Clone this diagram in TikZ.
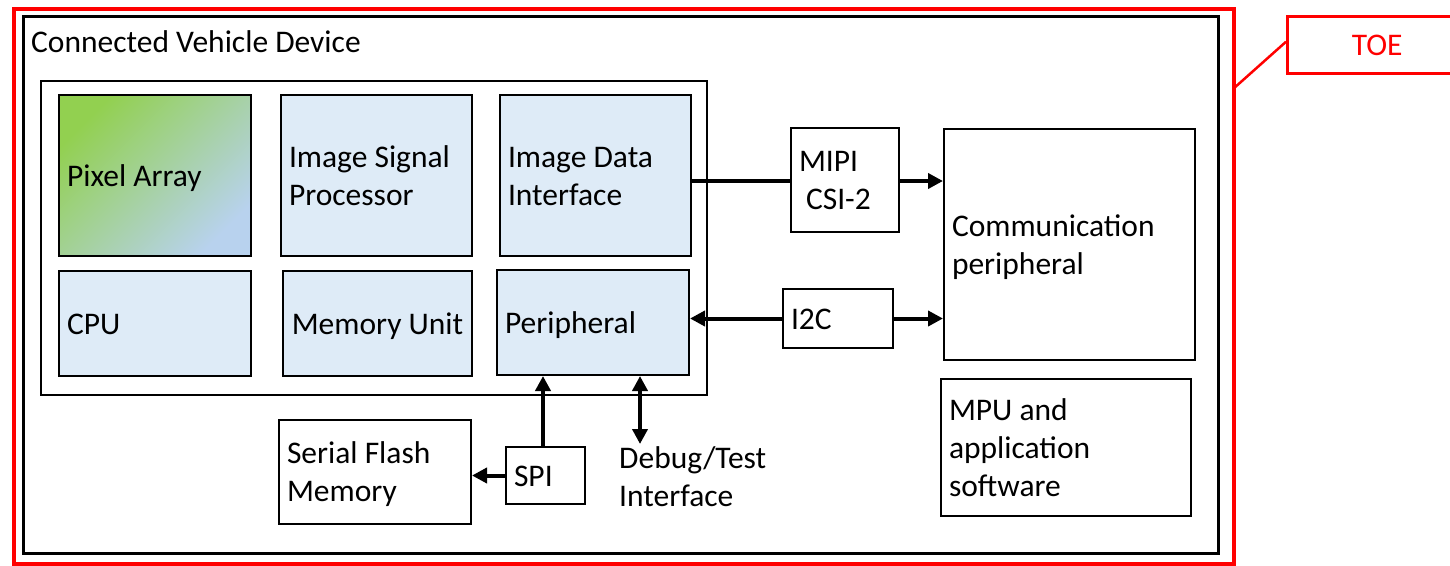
\documentclass[tikz,border=0pt]{standalone}
\usepackage{fontspec}
\setmainfont{Carlito}
\usetikzlibrary{arrows.meta}
\definecolor{lblue}{HTML}{DEEBF7}
\definecolor{pgreen}{HTML}{92D050}
\definecolor{pblue}{HTML}{B8D2EE}
\definecolor{toered}{HTML}{FF0000}
\tikzset{
  txt/.style={font=\fontsize{31.5}{38}\selectfont},
  box/.style={txt, draw=black, line width=2pt, rectangle, anchor=north west,
     inner xsep=8pt, inner ysep=0pt, align=flush left, text height=21pt, text depth=0pt},
  twoline/.style={text depth=38pt},
  threeline/.style={text depth=76pt},
  bluebox/.style={box, fill=lblue},
  conn/.style={line width=4pt},
  arr/.style={conn, -{Triangle[length=15pt,width=15pt]}},
  darr/.style={conn, {Triangle[length=15pt,width=15pt]}-{Triangle[length=15pt,width=15pt]}},
}
\begin{document}
\begin{tikzpicture}[x=1pt,y=1pt]
\clip (0,0) rectangle (1450,-565);
\fill[white] (0,0) rectangle (1450,-565);
% frames
\node[draw=toered, line width=4pt, anchor=north west, minimum width=1220pt, minimum height=555pt, inner sep=0pt] (toeframe) at (12,-7) {};
\node[draw=black, line width=2.5pt, anchor=north west, minimum width=1195pt, minimum height=537pt, inner sep=0pt] (device) at (22,-15) {};
\node[txt, anchor=base west, inner sep=0pt] (title) at (31,-52.5) {Connected Vehicle Device};
% chip
\node[draw=black, line width=2pt, anchor=north west, minimum width=666pt, minimum height=314pt, inner sep=0pt] (chip) at (40,-80) {};
\node[box, minimum height=161pt, text width=176pt,
      top color=pgreen, bottom color=pblue, shading angle=45] (pa) at (58,-94) {Pixel Array};
\node[bluebox, twoline, minimum height=161pt, text width=175pt] (isp) at (280,-94) {Image Signal\\Processor};
\node[bluebox, twoline, minimum height=161pt, text width=175pt] (idi) at (499,-94) {Image Data\\Interface};
\node[bluebox, minimum height=105pt, text width=176pt] (cpu) at (58,-270) {CPU};
\node[bluebox, minimum height=105pt, inner xsep=0pt, text width=189pt, align=flush center] (mem) at (282,-270) {Memory Unit};
\node[bluebox, minimum height=105pt, text width=176pt] (per) at (496,-269) {Peripheral};
% outside
\node[box, twoline, minimum height=104pt, text width=92pt] (mipi) at (790,-127) {MIPI\\\hspace*{7pt}CSI-2};
\node[box, twoline, minimum height=231pt, text width=235pt] (comm) at (943,-128) {Communication\\peripheral};
\node[box, minimum height=59pt, text width=94pt] (i2c) at (782,-288) {I2C};
\node[box, threeline, minimum height=137pt, text width=234pt] (mpu) at (940,-378) {MPU and\\application\\software};
\node[box, twoline, minimum height=104pt, text width=176pt] (sfm) at (278,-419) {Serial Flash\\Memory};
\node[box, minimum height=57pt, text width=63pt] (spi) at (505,-446) {SPI};
\node[txt, anchor=north west, inner sep=0pt, align=flush left] (dbgtxt) at (619,-446) {Debug/Test\\Interface};
% TOE callout
\node[draw=toered, text=toered, line width=2.5pt, anchor=north west, minimum width=180pt, minimum height=57pt, inner sep=0pt, txt, text height=21pt, text depth=0pt] (toe) at (1286,-15) {TOE};
\coordinate (toelink) at (1233,-89);
\draw[toered, line width=2.5pt] (toelink) -- ([yshift=3pt]toe.west);
% connectors
\coordinate (mipiy) at (0,-181);
\draw[conn] (idi.east |- mipiy) -- (mipi.west |- mipiy);
\draw[arr] (mipi.east |- mipiy) -- (comm.west |- mipiy);
\draw[arr] (i2c.west) -- (per.east |- i2c.west);
\draw[arr] (i2c.east) -- (comm.west |- i2c.east);
\coordinate (spix) at (543,-446);
\draw[arr] (spix) -- (per.south -| spix);
\draw[arr] (spi.west) -- (sfm.east |- spi.west);
\coordinate (dbg) at (640,-444);
\draw[darr] (dbg) -- (per.south -| dbg);
\end{tikzpicture}
\end{document}
